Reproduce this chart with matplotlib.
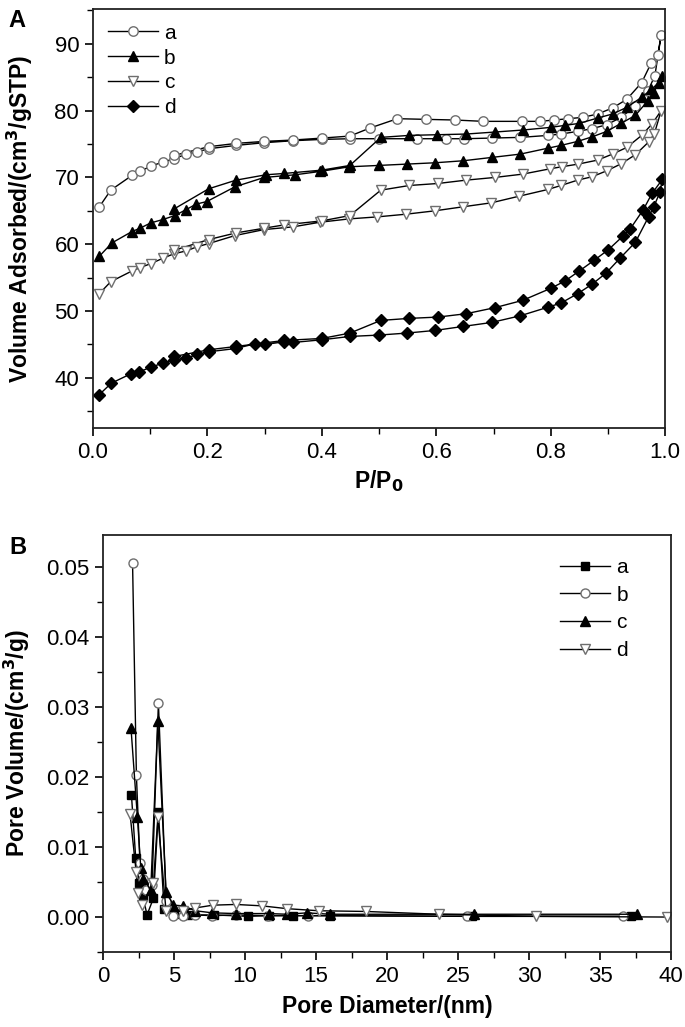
import matplotlib.pyplot as plt
from matplotlib.ticker import MultipleLocator, FormatStrFormatter

plt.rcParams['font.family'] = ['Liberation Sans', 'DejaVu Sans']

# ---------------- panel A: N2 isotherms (adsorption then desorption) ----------------
a_ads_p = [0.011, 0.031, 0.068, 0.082, 0.101, 0.122, 0.142, 0.163, 0.181, 0.202, 0.250, 0.299, 0.349,
           0.401, 0.449, 0.500, 0.566, 0.617, 0.649, 0.697, 0.747, 0.796, 0.818, 0.847, 0.872, 0.898,
           0.923, 0.948, 0.970, 0.982, 0.993]
a_ads_v = [65.6, 68.1, 70.3, 70.9, 71.7, 72.3, 72.8, 73.5, 73.8, 74.3, 74.8, 75.2, 75.5,
           75.7, 75.8, 75.8, 75.8, 75.8, 75.8, 75.9, 76.0, 76.3, 76.5, 76.9, 77.3, 77.9,
           79.0, 80.7, 83.0, 85.2, 91.3]
a_des_p = [0.987, 0.976, 0.959, 0.933, 0.908, 0.882, 0.856, 0.831, 0.806, 0.781, 0.750, 0.682, 0.633,
           0.582, 0.532, 0.484, 0.449, 0.401, 0.349, 0.299, 0.250, 0.202, 0.142]
a_des_v = [88.3, 87.2, 84.2, 81.7, 80.4, 79.5, 79.0, 78.8, 78.6, 78.4, 78.4, 78.4, 78.6,
           78.7, 78.8, 77.4, 76.2, 75.9, 75.6, 75.4, 75.1, 74.6, 73.3]

b_ads_p = [0.011, 0.033, 0.068, 0.082, 0.101, 0.122, 0.143, 0.163, 0.180, 0.199, 0.248, 0.299, 0.353,
           0.397, 0.448, 0.499, 0.548, 0.598, 0.647, 0.697, 0.747, 0.796, 0.818, 0.847, 0.873, 0.898,
           0.923, 0.948, 0.970, 0.980, 0.994]
b_ads_v = [58.2, 60.2, 61.9, 62.4, 63.2, 63.7, 64.3, 65.2, 66.0, 66.4, 68.6, 70.0, 70.4,
           70.9, 71.6, 71.8, 72.0, 72.2, 72.5, 73.0, 73.5, 74.4, 74.8, 75.4, 76.1, 76.9,
           78.1, 79.3, 81.5, 82.7, 85.2]
b_des_p = [0.989, 0.976, 0.959, 0.933, 0.908, 0.882, 0.850, 0.825, 0.800, 0.751, 0.702, 0.652, 0.602,
           0.553, 0.503, 0.449, 0.400, 0.334, 0.302, 0.250, 0.202, 0.142]
b_des_v = [84.2, 83.2, 82.0, 80.5, 79.5, 78.9, 78.1, 77.8, 77.5, 77.1, 76.8, 76.5, 76.4,
           76.3, 76.0, 71.8, 71.1, 70.6, 70.4, 69.6, 68.3, 65.3]

c_ads_p = [0.011, 0.031, 0.068, 0.082, 0.101, 0.122, 0.142, 0.163, 0.181, 0.202, 0.248, 0.299, 0.349,
           0.397, 0.448, 0.497, 0.547, 0.597, 0.646, 0.696, 0.745, 0.795, 0.818, 0.847, 0.872, 0.898,
           0.922, 0.948, 0.971, 0.981, 0.993]
c_ads_v = [52.6, 54.4, 56.0, 56.5, 57.1, 57.9, 58.6, 59.0, 59.6, 60.1, 61.3, 62.2, 62.6,
           63.3, 63.8, 64.1, 64.5, 65.0, 65.6, 66.2, 67.2, 68.2, 68.8, 69.6, 70.1, 71.0,
           72.0, 73.4, 75.3, 76.5, 80.0]
c_des_p = [0.977, 0.959, 0.933, 0.908, 0.882, 0.848, 0.819, 0.799, 0.751, 0.702, 0.652, 0.603, 0.553,
           0.503, 0.449, 0.400, 0.334, 0.299, 0.250, 0.202, 0.142]
c_des_v = [78.0, 76.3, 74.5, 73.5, 72.6, 72.0, 71.6, 71.3, 70.5, 70.0, 69.6, 69.1, 68.8,
           68.1, 64.3, 63.5, 62.9, 62.4, 61.7, 60.7, 59.1]

d_ads_p = [0.011, 0.032, 0.066, 0.081, 0.101, 0.122, 0.142, 0.163, 0.181, 0.202, 0.250, 0.283, 0.301,
           0.334, 0.350, 0.400, 0.449, 0.499, 0.548, 0.598, 0.647, 0.697, 0.747, 0.796, 0.818, 0.847,
           0.872, 0.897, 0.921, 0.948, 0.971, 0.980, 0.991, 0.995]
d_ads_v = [37.5, 39.2, 40.6, 40.9, 41.6, 42.2, 42.7, 42.9, 43.5, 43.9, 44.4, 45.1, 45.0,
           45.4, 45.3, 45.7, 46.2, 46.4, 46.7, 47.1, 47.7, 48.3, 49.3, 50.6, 51.2, 52.6,
           54.0, 55.7, 57.9, 60.3, 64.1, 65.6, 67.8, 69.7]
d_des_p = [0.977, 0.962, 0.939, 0.926, 0.901, 0.876, 0.850, 0.825, 0.800, 0.751, 0.702, 0.652, 0.603,
           0.552, 0.503, 0.449, 0.400, 0.334, 0.250, 0.202, 0.142]
d_des_v = [67.6, 65.2, 62.3, 61.2, 59.2, 57.6, 56.0, 54.5, 53.4, 51.6, 50.5, 49.6, 49.1,
           48.9, 48.6, 46.7, 45.9, 45.6, 44.7, 44.2, 43.2]

# ---------------- panel B: pore size distribution ----------------
psd_a_d = [2.0, 2.3, 2.55, 2.8, 3.1, 3.55, 3.9, 4.3, 5.0, 6.0, 7.8, 10.2, 11.7, 13.4, 16.0, 26.0, 37.2]
psd_a_v = [0.0175, 0.0085, 0.0048, 0.0030, 0.0003, 0.0027, 0.0150, 0.0012, 0.0004, 0.0003, 0.0003,
           0.0001, 0.0002, 0.0002, 0.0002, 0.0001, 0.0001]
psd_b_d = [2.08, 2.35, 2.6, 2.8, 3.05, 3.45, 3.9, 4.45, 4.9, 5.65, 6.5, 7.7, 9.35, 11.6, 14.4, 25.6, 36.6]
psd_b_v = [0.0506, 0.0203, 0.0077, 0.0055, 0.0039, 0.0046, 0.0306, 0.0023, 0.0001, 0.0001, 0.0003,
           0.0002, 0.0003, 0.0002, 0.0002, 0.0001, 0.0001]
psd_c_d = [1.97, 2.42, 2.66, 2.84, 3.36, 3.86, 4.44, 4.96, 5.66, 6.5, 7.7, 9.35, 11.66, 12.95, 14.37,
           16.0, 26.1, 37.6]
psd_c_v = [0.0270, 0.0143, 0.0070, 0.0055, 0.0039, 0.0280, 0.0036, 0.0017, 0.0016, 0.0009, 0.0006,
           0.0005, 0.0005, 0.0004, 0.0006, 0.0004, 0.0004, 0.0004]
psd_d_d = [1.9, 2.33, 2.49, 2.73, 3.55, 3.86, 4.44, 5.66, 6.5, 7.74, 9.36, 11.19, 12.95, 15.18, 18.5,
           23.65, 30.5, 39.7]
psd_d_v = [0.0148, 0.0065, 0.0034, 0.0017, 0.0048, 0.0143, 0.0008, 0.0009, 0.0013, 0.0017, 0.0018,
           0.0016, 0.0012, 0.0009, 0.0008, 0.0004, 0.0001, 0.0000]

OPEN_EDGE = '#6e6e6e'
LABEL_SIZE = 16.5
TICK_SIZE = 16

fig = plt.figure(figsize=(6.85, 10.27), dpi=100)
ax1 = fig.add_axes([0.1358, 0.5833, 0.8352, 0.4078])
ax2 = fig.add_axes([0.1504, 0.0730, 0.8292, 0.4060])

iso = [('a', a_ads_p, a_ads_v, a_des_p, a_des_v, 'o', 'white', OPEN_EDGE),
       ('b', b_ads_p, b_ads_v, b_des_p, b_des_v, '^', 'black', 'black'),
       ('c', c_ads_p, c_ads_v, c_des_p, c_des_v, 'v', 'white', OPEN_EDGE),
       ('d', d_ads_p, d_ads_v, d_des_p, d_des_v, 'D', 'black', 'black')]
for name, ap, av, dp, dv, mk, fc, ec in iso:
    ms = 5.8 if mk == 'D' else 6.8
    ax1.plot(ap + dp, av + dv, '-', color='black', lw=1.0, marker=mk, ms=ms,
             mfc=fc, mec=ec, mew=1.0, label=name)

ax1.set_xlim(0.0, 1.0)
ax1.set_ylim(32.5, 95.2)
ax1.xaxis.set_major_locator(MultipleLocator(0.2))
ax1.xaxis.set_minor_locator(MultipleLocator(0.1))
ax1.yaxis.set_major_locator(MultipleLocator(10))
ax1.yaxis.set_minor_locator(MultipleLocator(5))
ax1.xaxis.set_major_formatter(FormatStrFormatter('%.1f'))
ax1.set_xlabel('P/P$\\mathbf{_0}$', fontsize=LABEL_SIZE, fontweight='bold', labelpad=4)
ax1.set_ylabel('Volume Adsorbed/(cm$\\mathbf{^3}$/gSTP)', fontsize=LABEL_SIZE, fontweight='bold',
               labelpad=14)
ax1.legend(loc='upper left', frameon=False, fontsize=15, handlelength=2.4,
           handletextpad=0.3, labelspacing=0.28, borderaxespad=0.3, bbox_to_anchor=(0.0, 1.0))
ax1.text(-0.148, 1.0, 'A', transform=ax1.transAxes, fontsize=17, fontweight='bold',
         va='top', ha='left')

psd = [('a', psd_a_d, psd_a_v, 's', 'black', 'black'),
       ('b', psd_b_d, psd_b_v, 'o', 'white', OPEN_EDGE),
       ('c', psd_c_d, psd_c_v, '^', 'black', 'black'),
       ('d', psd_d_d, psd_d_v, 'v', 'white', OPEN_EDGE)]
for name, dd, vv, mk, fc, ec in psd:
    ms = 5.5 if mk == 's' else 6.5
    ax2.plot(dd, vv, '-', color='black', lw=1.0, marker=mk, ms=ms,
             mfc=fc, mec=ec, mew=1.0, label=name)

ax2.set_xlim(0, 40)
ax2.set_ylim(-0.005, 0.0546)
ax2.xaxis.set_major_locator(MultipleLocator(5))
ax2.xaxis.set_minor_locator(MultipleLocator(2.5))
ax2.yaxis.set_major_locator(MultipleLocator(0.01))
ax2.yaxis.set_minor_locator(MultipleLocator(0.005))
ax2.yaxis.set_major_formatter(FormatStrFormatter('%.2f'))
ax2.set_xlabel('Pore Diameter/(nm)', fontsize=LABEL_SIZE, fontweight='bold', labelpad=6)
ax2.set_ylabel('Pore Volume/(cm$\\mathbf{^3}$/g)', fontsize=LABEL_SIZE, fontweight='bold',
               labelpad=10)
ax2.legend(loc='upper right', frameon=False, fontsize=15, handlelength=2.4,
           handletextpad=0.3, labelspacing=0.42, borderaxespad=0.3, bbox_to_anchor=(0.95, 0.98))
ax2.text(-0.165, 0.969, 'B', transform=ax2.transAxes, fontsize=17, fontweight='bold',
         va='center', ha='left')

for ax in (ax1, ax2):
    for sp in ax.spines.values():
        sp.set_linewidth(1.3)
        sp.set_color('#222222')
    ax.tick_params(which='major', direction='out', length=6, width=1.2, labelsize=TICK_SIZE,
                   pad=4, top=False, right=False)
    ax.tick_params(which='minor', direction='out', length=4, width=1.0, top=False, right=False)

fig.savefig('out.png', dpi=100)
